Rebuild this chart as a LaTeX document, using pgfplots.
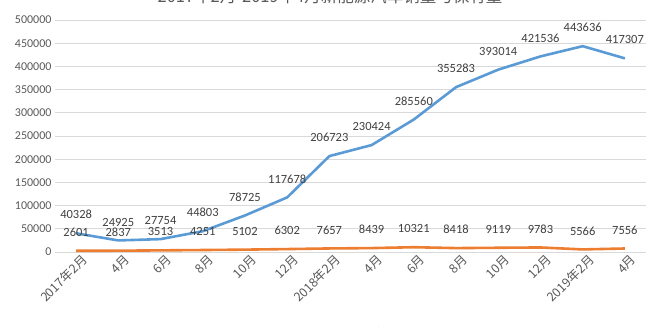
\documentclass[border=0pt]{standalone}
\usepackage{pgfplots}
\usepackage{pgfplotstable}
\pgfplotsset{compat=1.18}
\usepackage{fontspec}
\setmainfont{Carlito}
\newfontfamily\cjk{Noto Sans CJK SC}
\definecolor{cblue}{HTML}{5B9BD5}
\definecolor{corange}{HTML}{ED7D31}
\definecolor{gridc}{HTML}{D9D9D9}
\definecolor{txt}{HTML}{595959}
\definecolor{lab}{HTML}{404040}

\pgfplotstableread{
x y
0 40328
1 24925
2 27754
3 44803
4 78725
5 117678
6 206723
7 230424
8 285560
9 355283
10 393014
11 421536
12 443636
13 417307
}\bluedata

\pgfplotstableread{
x y
0 2601
1 2837
2 3513
3 4251
4 5102
5 6302
6 7657
7 8439
8 10321
9 8418
10 9119
11 9783
12 5566
13 7556
}\orangedata

\begin{document}
\begin{tikzpicture}[x=1pt,y=1pt]
\begin{axis}[
  at={(55pt,75pt)}, anchor=south west,
  scale only axis, width=591pt, height=232pt,
  xmin=-0.5, xmax=13.5, ymin=0, ymax=500000,
  xtick={0,...,13},
  xticklabels={2017年2月,4月,6月,8月,10月,12月,2018年2月,4月,6月,8月,10月,12月,2019年2月,4月},
  ytick={0,50000,...,500000},
  scaled y ticks=false,
  ymajorgrids, grid style={draw=gridc, line width=0.8pt},
  axis line style={draw=none},
  major tick length=0pt,
  tick label style={text=txt},
  yticklabel style={font=\fontsize{12}{14}\selectfont,
    /pgf/number format/.cd, fixed, 1000 sep={}, assume math mode=true},
  xticklabel style={font=\cjk\fontsize{12.5}{14}\selectfont, rotate=45, anchor=east, xshift=6pt, yshift=-10pt},
  clip=false,
  nodes near coords={\pgfplotspointmeta},
  point meta=explicit symbolic,
  every node near coord/.append style={anchor=south, inner sep=0pt, yshift=13pt,
    font=\fontsize{12.5}{14}\selectfont, text=lab},
  legend style={at={(0.465,-0.315)}, anchor=north, draw=none, inner sep=1pt,
    font=\cjk\fontsize{12}{14}\selectfont, text=txt, legend columns=2,
    /tikz/every even column/.append style={column sep=12pt}},
  legend image code/.code={\draw[#1, line width=2.6pt] (0pt,0pt) -- (24pt,0pt);},
]
\addplot[cblue, line width=2.6pt, line join=round] table[x=x, y=y, meta=y] {\bluedata};
\addlegendentry{保有量}
\addplot[corange, line width=2.6pt, line join=round] table[x=x, y=y, meta=y] {\orangedata};
\addlegendentry{销量}
\end{axis}
\node[anchor=base, font=\cjk\fontsize{16.5}{19}\selectfont, text=txt] at (330,324) {2017年2月-2019年4月新能源汽车销量与保有量};
\pgfresetboundingbox
\useasboundingbox (0,0) rectangle (664,327);
\end{tikzpicture}
\end{document}
